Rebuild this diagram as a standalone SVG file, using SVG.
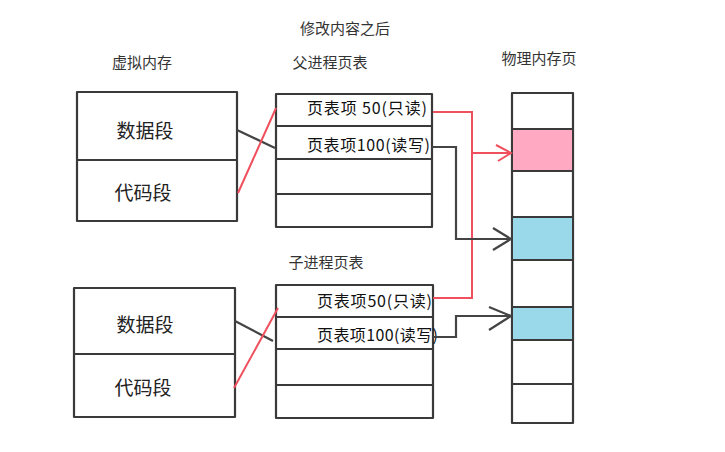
<svg xmlns="http://www.w3.org/2000/svg" width="725" height="452" viewBox="0 0 725 452">
<style>
.box{fill:#fff;stroke:#3a3a3a;stroke-width:2.2;stroke-linejoin:round}
.ln{fill:none;stroke:#3a3a3a;stroke-width:2}
.red{fill:none;stroke:#f0505e;stroke-width:2}
.dk{fill:none;stroke:#444;stroke-width:2.2}
.t{font-family:"Noto Sans CJK SC","Noto Sans",sans-serif;fill:#222}
.ttl{font-size:15px;text-anchor:middle;fill:#333}
.seg{font-size:19px;text-anchor:middle}
.ent{font-size:16px;fill:#111}
</style>
<text class="t ttl" x="345" y="34" font-size="16">修改内容之后</text>
<text class="t ttl" x="142" y="68">虚拟内存</text>
<text class="t ttl" x="330" y="68">父进程页表</text>
<text class="t ttl" x="539" y="64">物理内存页</text>
<text class="t ttl" x="326" y="268">子进程页表</text>

<g id="vm-parent">
<rect class="box" x="77" y="92" width="160" height="129"/>
<line class="ln" x1="77" y1="160" x2="237" y2="160"/>
<text class="t seg" x="145" y="138">数据段</text>
<text class="t seg" x="143" y="200">代码段</text>
</g>
<g id="pt-parent">
<rect class="box" x="276" y="94" width="156" height="133"/>
<line class="ln" x1="276" y1="126" x2="432" y2="126"/>
<line class="ln" x1="276" y1="159" x2="432" y2="159"/>
<line class="ln" x1="276" y1="194" x2="432" y2="194"/>
<text class="t ent" x="307" y="114" textLength="120">页表项 50(只读)</text>
<text class="t ent" x="307" y="151" textLength="123">页表项100(读写)</text>
</g>
<g id="vm-child">
<rect class="box" x="74" y="288" width="161" height="129"/>
<line class="ln" x1="74" y1="354" x2="235" y2="354"/>
<text class="t seg" x="145" y="332">数据段</text>
<text class="t seg" x="143" y="395">代码段</text>
</g>
<g id="pt-child">
<rect class="box" x="276" y="285" width="157" height="133"/>
<line class="ln" x1="276" y1="317" x2="433" y2="317"/>
<line class="ln" x1="276" y1="349" x2="433" y2="349"/>
<line class="ln" x1="276" y1="385" x2="433" y2="385"/>
<text class="t ent" x="317" y="307" textLength="115">页表项50(只读)</text>
<text class="t ent" x="317" y="341" textLength="121">页表项100(读写)</text>
</g>
<g id="physical">
<rect class="box" x="512" y="93" width="61" height="330"/>
<rect x="513" y="129" width="59" height="42" fill="#ffa9c2"/>
<rect x="513" y="217" width="59" height="43" fill="#99d9ea"/>
<rect x="513" y="307" width="59" height="33" fill="#99d9ea"/>
<line class="ln" x1="512" y1="129" x2="573" y2="129"/>
<line class="ln" x1="512" y1="171" x2="573" y2="171"/>
<line class="ln" x1="512" y1="217" x2="573" y2="217"/>
<line class="ln" x1="512" y1="260" x2="573" y2="260"/>
<line class="ln" x1="512" y1="307" x2="573" y2="307"/>
<line class="ln" x1="512" y1="340" x2="573" y2="340"/>
<line class="ln" x1="512" y1="384" x2="573" y2="384"/>
</g>
<g id="connectors">
<line class="dk" x1="237" y1="130" x2="275" y2="148"/>
<line class="red" x1="238" y1="193" x2="276" y2="108"/>
<line class="dk" x1="235" y1="321" x2="273" y2="341"/>
<line class="red" x1="234" y1="388" x2="278" y2="308"/>
<polyline class="red" points="433,112 472,112 472,298 433,298"/>
<line class="red" x1="472" y1="153" x2="511" y2="153"/>
<polyline class="red" points="496,145 511,153 498,161"/>
<polyline class="dk" points="432,147 456,147 456,239 511,239"/>
<polyline class="dk" points="493,228 511,239 493,250"/>
<polyline class="dk" points="433,337 456,337 456,316 511,316"/>
<polyline class="dk" points="489,307 511,316 489,330"/>
</g>
</svg>
